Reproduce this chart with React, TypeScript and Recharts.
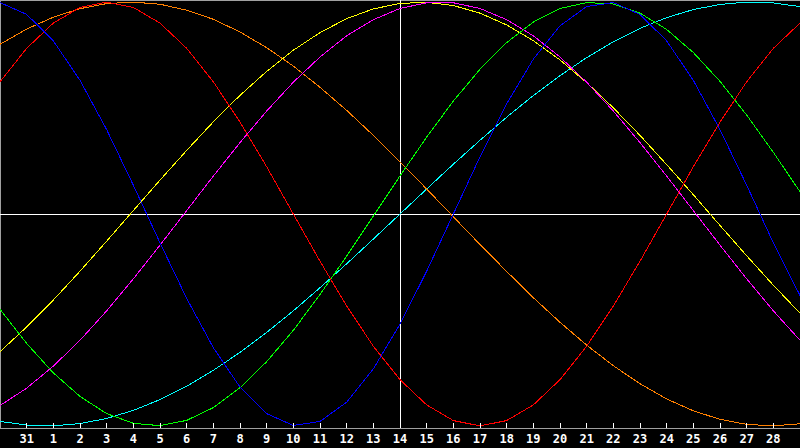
import React from 'react';
import { LineChart, Line, XAxis, YAxis, ReferenceLine } from 'recharts';

// days shown on the axis, one point per day (first and last are off-label edges)
const days = ['30', '31', '1', '2', '3', '4', '5', '6', '7', '8', '9', '10', '11', '12', '13', '14', '15', '16', '17', '18', '19', '20', '21', '22', '23', '24', '25', '26', '27', '28', '29'];

const physical = [99.8, 94.2, 81.7, 63.1, 39.8, 13.6, -13.6, -39.8, -63.1, -81.7, -94.2, -99.8, -97.9, -88.8, -73.1, -52.0, -27.0, 0, 27.0, 52.0, 73.1, 88.8, 97.9, 99.8, 94.2, 81.7, 63.1, 39.8, 13.6, -13.6, -38.5];
const emotional = [62.4, 78.2, 90.1, 97.5, 100, 97.5, 90.1, 78.2, 62.4, 43.4, 22.3, 0, -22.3, -43.4, -62.4, -78.2, -90.1, -97.5, -100, -97.5, -90.1, -78.2, -62.4, -43.4, -22.3, 0, 22.3, 43.4, 62.4, 78.2, 90.1];
const intellectual = [-45.0, -61.1, -75.0, -86.1, -94.2, -98.8, -99.9, -97.4, -91.4, -82.0, -69.7, -54.9, -38.0, -19.9, -1.0, 18.0, 36.3, 53.3, 68.3, 80.9, 90.6, 97.0, 99.8, 99.1, 94.8, 87.1, 76.2, 62.6, 46.7, 29.1, 10.5];
const intuitive = [-90.4, -82.2, -71.8, -59.6, -45.7, -30.6, -14.7, 1.6, 17.9, 33.7, 48.6, 62.2, 74.1, 84.1, 91.7, 97.0, 99.7, 99.7, 97.0, 91.7, 84.1, 74.1, 62.2, 48.6, 33.7, 17.9, 1.6, -14.7, -30.6, -45.7, -59.6];
const aesthetic = [-65.0, -53.3, -40.6, -27.0, -12.8, 1.6, 16.0, 30.0, 43.5, 56.0, 67.3, 77.3, 85.6, 92.2, 96.8, 99.4, 99.9, 98.4, 94.8, 89.2, 81.8, 72.7, 62.0, 50.1, 37.1, 23.3, 9.1, -5.4, -19.7, -33.6, -46.8];
const awareness = [80.1, 87.3, 92.9, 96.9, 99.3, 100, 99.0, 96.2, 91.9, 85.9, 78.5, 69.8, 59.8, 48.9, 37.1, 24.6, 11.8, -1.3, -14.4, -27.1, -39.5, -51.1, -61.9, -71.6, -80.1, -87.3, -92.9, -96.9, -99.3, -100, -99.0];
const spiritual = [-97.9, -99.6, -100, -98.9, -96.5, -92.7, -87.6, -81.3, -73.8, -65.3, -55.9, -45.7, -34.8, -23.5, -11.8, 0, 11.8, 23.5, 34.8, 45.7, 55.9, 65.3, 73.8, 81.3, 87.6, 92.7, 96.5, 98.9, 100, 99.6, 97.9];

const data = days.map((day, i) => ({
  i,
  day,
  physical: physical[i],
  emotional: emotional[i],
  intellectual: intellectual[i],
  intuitive: intuitive[i],
  aesthetic: aesthetic[i],
  awareness: awareness[i],
  spiritual: spiritual[i],
}));

const tickIdx = days.map((_, i) => i).filter((i) => i > 0 && i < days.length - 1);
const today = 15; // index of day 14

const series = [
  { key: 'spiritual', color: '#00ffff' },
  { key: 'awareness', color: '#ff8000' },
  { key: 'aesthetic', color: '#ffff00' },
  { key: 'intuitive', color: '#ff00ff' },
  { key: 'intellectual', color: '#00ff00' },
  { key: 'emotional', color: '#ff0000' },
  { key: 'physical', color: '#0000ff' },
];

function DayTick(props: any) {
  const { x, y, payload } = props;
  return (
    <g>
      <line x1={x} x2={x} y1={y - 5} y2={y} stroke="#ffffff" shapeRendering="crispEdges" />
      <text
        x={x}
        y={y + 15}
        textAnchor="middle"
        fill="#ffffff"
        fontSize={12}
        fontWeight="bold"
        fontFamily="'DejaVu Sans Mono', monospace"
      >
        {days[payload.value]}
      </text>
    </g>
  );
}

export default function App() {
  return (
    <div style={{ position: 'fixed', left: 0, top: 0, width: 800, height: 448, background: '#000' }}>
      <LineChart width={800} height={448} data={data} margin={{ top: 0, right: 0, bottom: 0, left: 0 }}>
        <XAxis
          dataKey="i"
          type="number"
          domain={[0, 30]}
          ticks={tickIdx}
          interval={0}
          height={20}
          tickSize={0}
          tickMargin={0}
          tickLine={false}
          axisLine={{ stroke: '#a0a0a0', shapeRendering: 'crispEdges' }}
          tick={<DayTick />}
        />
        <YAxis hide domain={[-101, 101]} />
        <ReferenceLine x={0} stroke="#a0a0a0" strokeWidth={2} />
        <ReferenceLine y={101} stroke="#a0a0a0" strokeWidth={2} />
        <ReferenceLine y={0} stroke="#ffffff" shapeRendering="crispEdges" />
        <ReferenceLine x={today} stroke="#ffffff" shapeRendering="crispEdges" />
        {series.map((s) => (
          <Line
            key={s.key}
            type="linear"
            dataKey={s.key}
            stroke={s.color}
            strokeWidth={1}
            shapeRendering="crispEdges"
            dot={false}
            activeDot={false}
            isAnimationActive={false}
          />
        ))}
      </LineChart>
    </div>
  );
}
